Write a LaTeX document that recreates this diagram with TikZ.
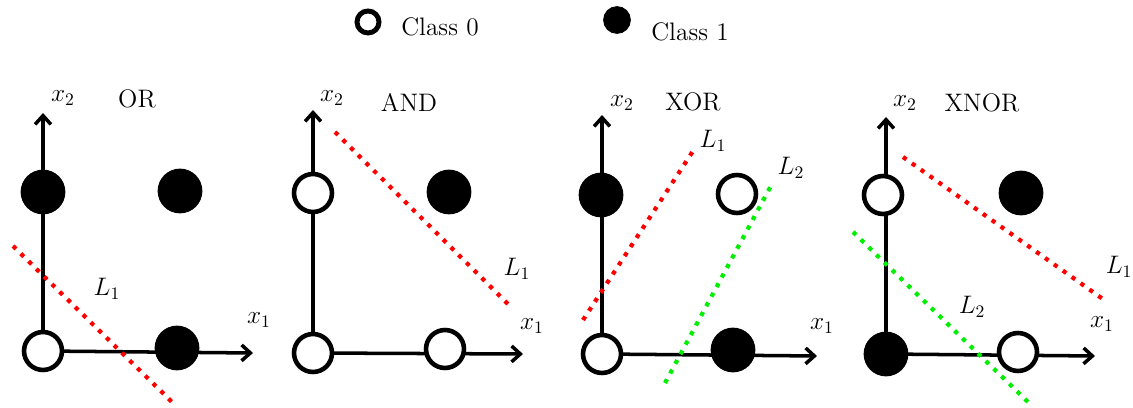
\documentclass[tikz,border=0pt]{standalone}
\usetikzlibrary{arrows.meta, positioning, backgrounds}
\definecolor{sep-red}{HTML}{FF0000}
\definecolor{sep-green}{HTML}{00EE00}

\tikzset{
  cls0/.style={circle, draw=black, fill=white, line width=2.6pt,
               minimum size=0.76cm, inner sep=0pt},
  cls1/.style={circle, draw=black, fill=black, line width=1pt,
               minimum size=0.86cm, inner sep=0pt},
  axis/.style={line width=2pt, -{Straight Barb[length=5pt,width=9pt]}},
  sepline/.style={line width=2.4pt, dash pattern=on 2.4pt off 3.8pt},
  lbl/.style={font=\Large, inner sep=1pt}
}

\begin{document}
\begin{tikzpicture}[x=0.02cm, y=-0.02cm]
  \useasboundingbox (0,0) rectangle (1133,408);

  % ── legend ──
  \node[cls0, line width=2.8pt, minimum size=0.44cm] (leg0) at (368,22) {};
  \node[lbl] (leg0txt) at (440,27) {Class 0};
  \node[cls1, minimum size=0.52cm] (leg1) at (617,20) {};
  \node[lbl] (leg1txt) at (690,32) {Class 1};

  % ── OR ──
  \node[cls0] (or00) at (43,351) {};
  \node[cls1] (or01) at (43,192) {};
  \node[cls1] (or11) at (180,191) {};
  \node[cls1] (or10) at (177,348) {};
  \coordinate (orx) at (253,353);
  \coordinate (ory) at (43,113);
  \node[lbl] (orx2) at (63,98) {$x_2$};
  \node[lbl] (ortitle) at (137,99) {OR};
  \node[lbl] (orx1) at (259,320) {$x_1$};
  \node[lbl] (orl1) at (107,289) {$L_1$};
  \coordinate (orla) at (13,246);
  \coordinate (orlb) at (173,403);

  % ── AND ──
  \node[cls0] (and00) at (313,353) {};
  \node[cls0] (and01) at (313,193) {};
  \node[cls1] (and11) at (449,192) {};
  \node[cls0] (and10) at (445,349) {};
  \coordinate (andx) at (523,354);
  \coordinate (andy) at (313,110);
  \node[lbl] (andx2) at (332,98) {$x_2$};
  \node[lbl] (andtitle) at (409,102) {AND};
  \node[lbl] (andx1) at (532,326) {$x_1$};
  \node[lbl] (andl1) at (517,269) {$L_1$};
  \coordinate (andla) at (335,132);
  \coordinate (andlb) at (512,308);

  % ── XOR ──
  \node[cls0] (xor00) at (602,354) {};
  \node[cls1] (xor01) at (601,195) {};
  \node[cls0] (xor11) at (737,194) {};
  \node[cls1] (xor10) at (733,350) {};
  \coordinate (xorx) at (817,356);
  \coordinate (xory) at (602,115);
  \node[lbl] (xorx2) at (622,103) {$x_2$};
  \node[lbl] (xortitle) at (693,102) {XOR};
  \node[lbl] (xorx1) at (822,326) {$x_1$};
  \node[lbl] (xorl1) at (713,141) {$L_1$};
  \node[lbl] (xorl2) at (791,168) {$L_2$};
  \coordinate (xorla) at (583,320);
  \coordinate (xorlb) at (695,148);
  \coordinate (xorlc) at (665,383);
  \coordinate (xorld) at (773,182);

  % ── XNOR ──
  \node[cls1] (xn00) at (886,354) {};
  \node[cls0] (xn01) at (883,195) {};
  \node[cls1] (xn11) at (1021,193) {};
  \node[cls0] (xn10) at (1018,352) {};
  \coordinate (xnx) at (1095,356);
  \coordinate (xny) at (886,117);
  \node[lbl] (xnx2) at (905,103) {$x_2$};
  \node[lbl] (xntitle) at (982,103) {XNOR};
  \node[lbl] (xnx1) at (1102,324) {$x_1$};
  \node[lbl] (xnl1) at (1119,267) {$L_1$};
  \node[lbl] (xnl2) at (972,307) {$L_2$};
  \coordinate (xnla) at (903,157);
  \coordinate (xnlb) at (1107,302);
  \coordinate (xnlc) at (853,232);
  \coordinate (xnld) at (1028,402);

  % axes behind the points
  \begin{scope}[on background layer]
    \draw[axis] (or00.center) -- (orx);
    \draw[axis] (or00.center) -- (ory);
    \draw[axis] (and00.center) -- (andx);
    \draw[axis] (and00.center) -- (andy);
    \draw[axis] (xor00.center) -- (xorx);
    \draw[axis] (xor00.center) -- (xory);
    \draw[axis] (xn00.center) -- (xnx);
    \draw[axis] (xn00.center) -- (xny);
  \end{scope}

  % separating lines
  \draw[sepline, sep-red] (orla) -- (orlb);
  \draw[sepline, sep-red] (andla) -- (andlb);
  \draw[sepline, sep-red] (xorla) -- (xorlb);
  \draw[sepline, sep-green] (xorlc) -- (xorld);
  \draw[sepline, sep-red] (xnla) -- (xnlb);
  \draw[sepline, sep-green] (xnlc) -- (xnld);
\end{tikzpicture}
\end{document}
